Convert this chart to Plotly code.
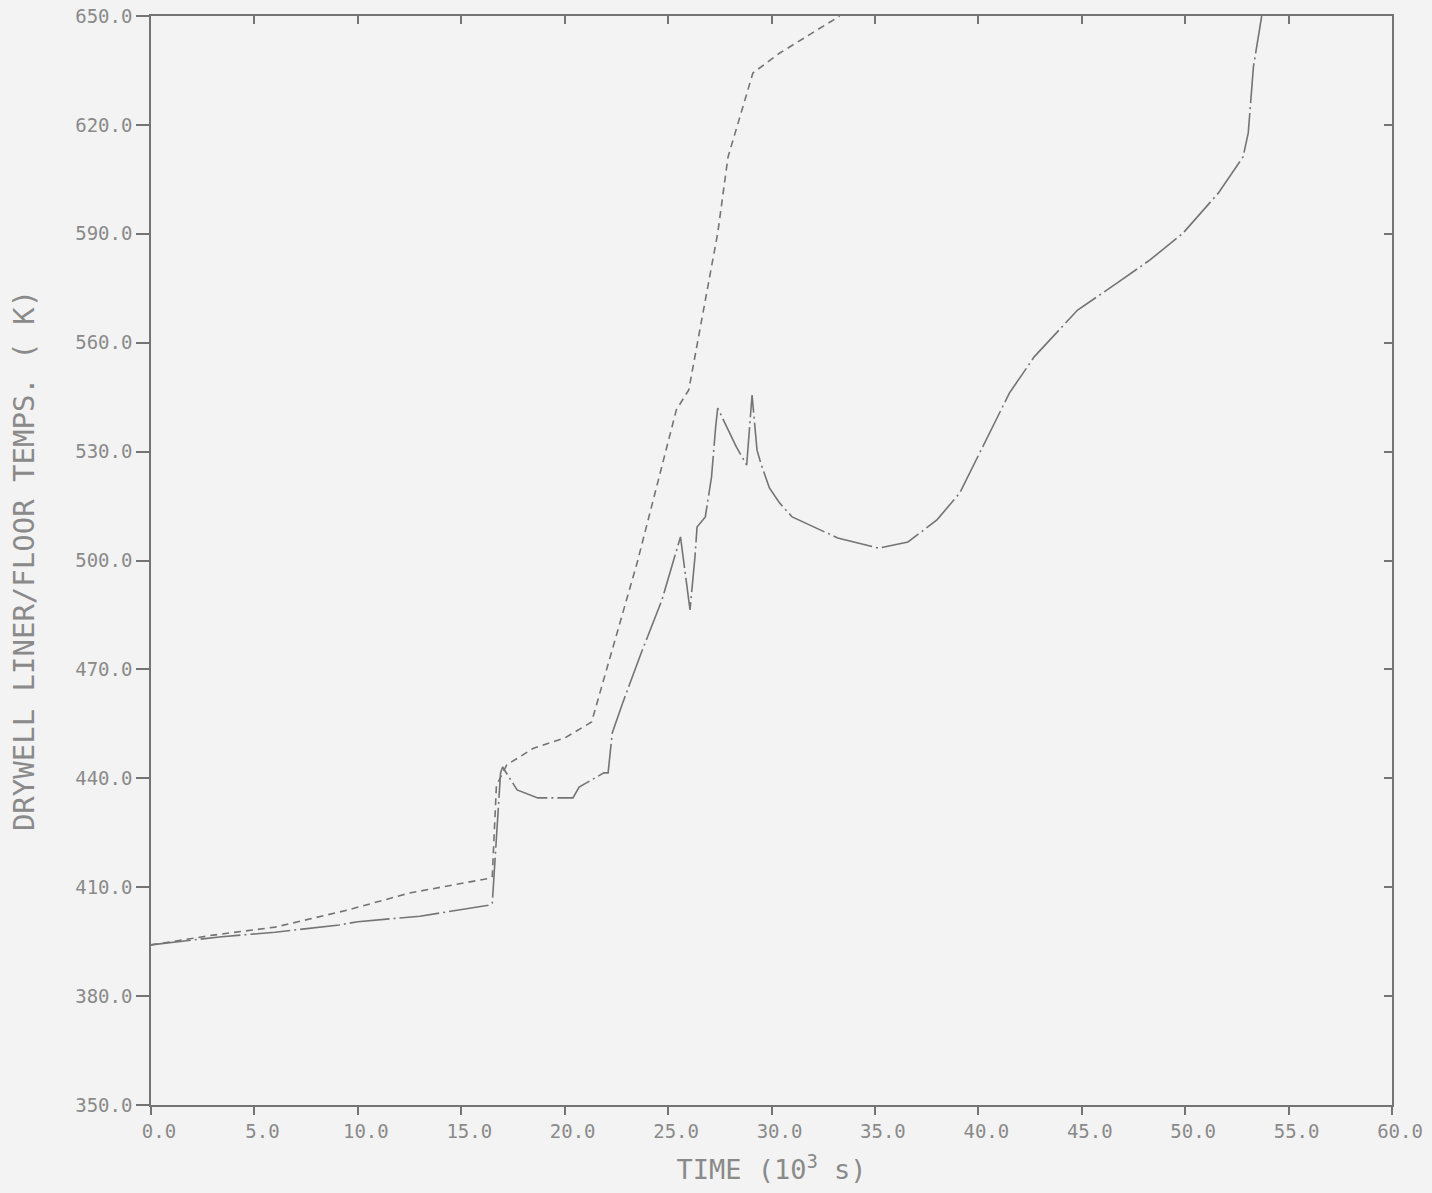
import plotly.graph_objects as go

# Time in 10^3 s, temperatures in K
liner_time = [0.0, 3.0, 6.0, 9.5, 12.5, 16.4, 16.5, 16.7, 17.2, 18.5, 20.0, 21.3, 23.5,
              25.4, 26.0, 27.4, 27.9, 29.1, 30.4, 33.3]
liner_temp = [394.1, 396.8, 399.0, 403.7, 408.4, 412.5, 413.0, 438.0, 443.7, 448.3, 451.1,
              455.5, 499.3, 541.5, 547.0, 590.2, 611.2, 634.3, 639.8, 650.0]

floor_time = [0.0, 3.3, 6.0, 9.1, 10.0, 13.0, 16.4, 16.5, 16.9, 17.0, 17.7, 18.7, 20.4,
              20.7, 21.9, 22.1, 22.3, 22.8, 23.7, 24.7, 25.6, 26.06, 26.3, 26.4, 26.8,
              27.1, 27.3, 27.4, 28.3, 28.8, 29.06, 29.3, 29.5, 29.9, 30.4, 31.0, 33.2, 35.2,
              36.6, 38.0, 39.1, 40.3, 41.5, 42.7, 44.8, 46.7, 48.3, 49.9, 51.6, 52.8,
              53.05, 53.3, 53.7]
floor_temp = [394.1, 396.3, 397.6, 399.6, 400.5, 402.0, 405.1, 405.6, 441.5, 443.1, 436.8,
              434.6, 434.6, 437.6, 441.5, 441.5, 452.5, 460.7, 474.5, 489.1, 506.5, 486.4,
              501.0, 509.2, 512.0, 523.0, 536.8, 542.0, 531.3, 526.3, 545.6, 530.4, 526.5,
              520.0, 515.8, 512.0, 506.2, 503.4, 505.1, 511.2, 518.6, 532.4, 546.1, 556.1,
              569.0, 576.4, 582.8, 590.2, 601.2, 611.2, 617.8, 636.0, 650.0]

x_ticks = [0, 5, 10, 15, 20, 25, 30, 35, 40, 45, 50, 55, 60]
y_ticks = [350, 380, 410, 440, 470, 500, 530, 560, 590, 620, 650]

ink = "#747474"
txt = "#8a8a8a"
bg = "#f3f3f3"
font_family = "DejaVu Sans Mono"

fig = go.Figure()
fig.add_trace(go.Scatter(x=liner_time, y=liner_temp, mode="lines",
                         line=dict(color=ink, width=1.6, dash="7px,5px"),
                         showlegend=False))
fig.add_trace(go.Scatter(x=floor_time, y=floor_temp, mode="lines",
                         line=dict(color=ink, width=1.6, dash="40px,4px,2px,4px"),
                         showlegend=False))
# invisible trace to host mirrored (inward-tick) axes
fig.add_trace(go.Scatter(x=[None], y=[None], xaxis="x2", yaxis="y2",
                         mode="lines", showlegend=False, hoverinfo="skip"))

fig.update_layout(
    width=1432, height=1193,
    margin=dict(l=151, r=40, t=16, b=88),
    paper_bgcolor=bg, plot_bgcolor=bg,
    font=dict(family=font_family, color=txt, size=19),
    xaxis=dict(range=[0, 60], tickvals=x_ticks,
               ticktext=[f"{v:.1f}" for v in x_ticks],
               ticks="outside", ticklen=8, tickwidth=1.5, tickcolor=ink,
               showline=True, linecolor=ink, linewidth=1.5,
               showgrid=False, zeroline=False, automargin=False,
               ticklabelshift=8,
               title=dict(text="TIME (10<sup>3</sup> s)",
                          font=dict(size=27, color=txt), standoff=20)),
    yaxis=dict(range=[350, 650], tickvals=y_ticks,
               ticktext=[f"{v:.1f}" for v in y_ticks],
               ticks="outside", ticklen=13, tickwidth=1.5, tickcolor=ink,
               showline=True, linecolor=ink, linewidth=1.5,
               showgrid=False, zeroline=False, automargin=False,
               title=dict(text="DRYWELL LINER/FLOOR TEMPS. ( K)",
                          font=dict(size=29, color=txt), standoff=32)),
    xaxis2=dict(range=[0, 60], overlaying="x", side="top", anchor="y",
                tickvals=x_ticks, ticks="inside", ticklen=8, tickwidth=1.5,
                tickcolor=ink, showticklabels=False, showline=True,
                linecolor=ink, linewidth=1.5, showgrid=False, zeroline=False),
    yaxis2=dict(range=[350, 650], overlaying="y", side="right", anchor="x",
                tickvals=y_ticks, ticks="inside", ticklen=8, tickwidth=1.5,
                tickcolor=ink, showticklabels=False, showline=True,
                linecolor=ink, linewidth=1.5, showgrid=False, zeroline=False),
)

fig.write_html(
    "out.html",
    config={"displayModeBar": False},
    post_script=("document.body.style.margin='0';"
                 "document.body.style.background='" + bg + "';"),
)
